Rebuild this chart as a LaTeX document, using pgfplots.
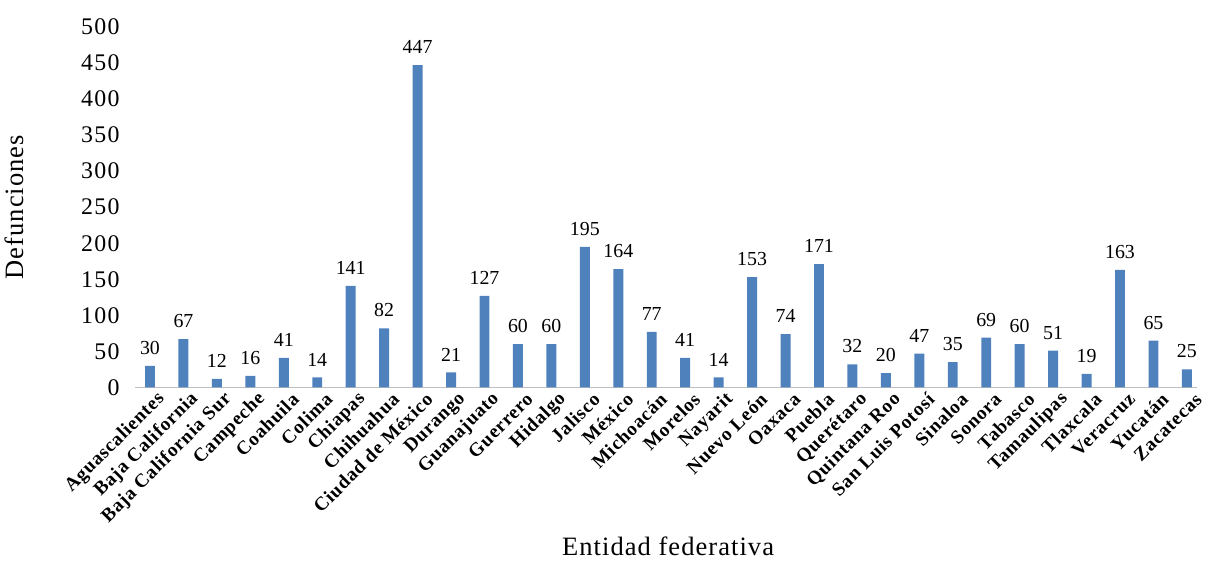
\documentclass[border=0pt]{standalone}
\usepackage{pgfplots}
\pgfplotsset{compat=1.18}
\usepackage{fontspec}
\setmainfont{Liberation Serif}
\definecolor{barblue}{HTML}{4F81BD}

\begin{document}
\begin{tikzpicture}
\begin{axis}[
  scale only axis,
  width=801.75pt, height=272.25pt,
  ybar, bar width=7.5pt,
  ymin=0, ymax=500,
  ytick={0,50,...,500},
  xmin=-0.45, xmax=31.3,
  xtick=data,
  xticklabels={Aguascalientes,Baja California,Baja California Sur,Campeche,Coahuila,Colima,Chiapas,Chihuahua,Ciudad de México,Durango,Guanajuato,Guerrero,Hidalgo,Jalisco,México,Michoacán,Morelos,Nayarit,Nuevo León,Oaxaca,Puebla,Querétaro,Quintana Roo,San Luis Potosí,Sinaloa,Sonora,Tabasco,Tamaulipas,Tlaxcala,Veracruz,Yucatán,Zacatecas},
  axis lines=left,
  x axis line style={draw=black!25, line width=0.9pt, -},
  y axis line style={draw=none},
  major tick length=0pt,
  /pgf/number format/assume math mode=true,
  yticklabel style={font=\fontsize{18}{18}\selectfont\addfontfeature{LetterSpace=6}, xshift=-8pt},
  xticklabel style={font=\fontsize{14.5}{14.5}\selectfont\bfseries\addfontfeature{LetterSpace=4}, rotate=45, anchor=east, yshift=-11pt, xshift=5pt},
  ylabel={Defunciones},
  xlabel={Entidad federativa},
  every axis y label/.style={at={(axis description cs:-0.114,0.5)}, anchor=center, rotate=90, font=\fontsize{20}{20}\selectfont\addfontfeature{LetterSpace=4}},
  every axis x label/.style={at={(axis description cs:0.502,-0.441)}, anchor=center, font=\fontsize{20}{20}\selectfont\addfontfeature{LetterSpace=4}},
  nodes near coords,
  every node near coord/.append style={font=\fontsize{15}{15}\selectfont, yshift=5pt},
]
\addplot[fill=barblue, draw=none] coordinates {
  (0,30)(1,67)(2,12)(3,16)(4,41)(5,14)(6,141)(7,82)(8,447)(9,21)
  (10,127)(11,60)(12,60)(13,195)(14,164)(15,77)(16,41)(17,14)(18,153)(19,74)
  (20,171)(21,32)(22,20)(23,47)(24,35)(25,69)(26,60)(27,51)(28,19)(29,163)
  (30,65)(31,25)
};
\end{axis}
\path[use as bounding box] ([xshift=-107.25pt,yshift=-134.25pt]current axis.origin) rectangle ([xshift=801.75pt,yshift=292.5pt]current axis.origin);
\end{tikzpicture}
\end{document}
